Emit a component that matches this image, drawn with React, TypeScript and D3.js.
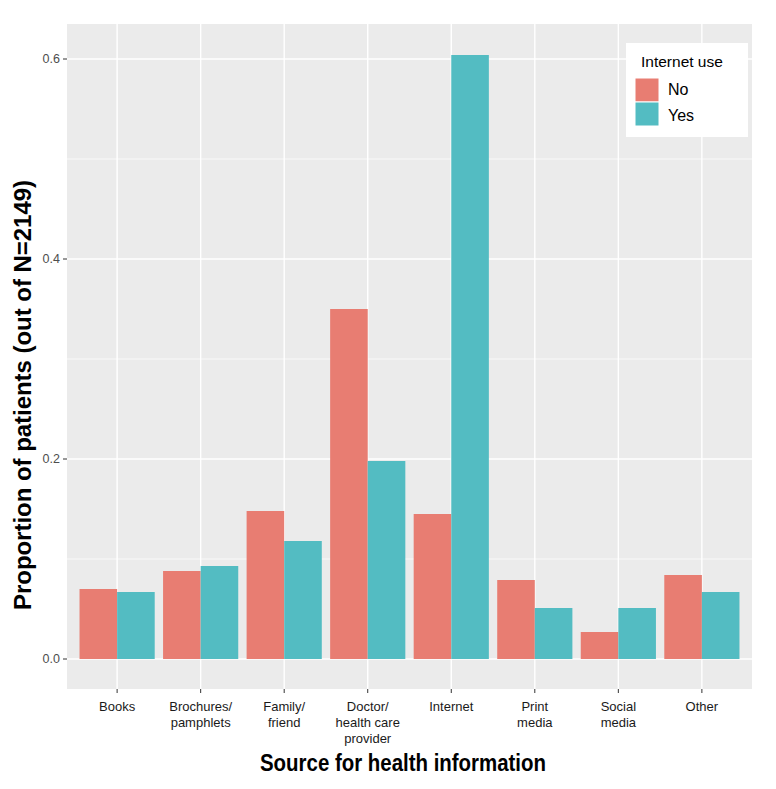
import React from "react";
import * as d3 from "d3";

const categories = ["Books", "Brochures/\npamphlets", "Family/\nfriend", "Doctor/\nhealth care\nprovider", "Internet", "Print\nmedia", "Social\nmedia", "Other"];
const seriesNames = ["No", "Yes"];
const valuesNo = [0.070, 0.088, 0.148, 0.350, 0.145, 0.079, 0.027, 0.084];
const valuesYes = [0.067, 0.093, 0.118, 0.198, 0.604, 0.051, 0.051, 0.067];
const yTicks = [0.0, 0.2, 0.4, 0.6];
const yMinor = [0.1, 0.3, 0.5];
const colors = ["#E87D72", "#53BCC2"];

export default function App() {
  const W = 776, H = 789;
  const left = 67, right = 752, top = 24, bottom = 689;
  // ggplot discrete scale: positions 1..n with 0.6 expansion each side
  const x = d3.scaleLinear().domain([0.4, categories.length + 0.6]).range([left, right]);
  const cx = (i: number) => x(i + 1);
  const y = d3.scaleLinear().domain([0, 0.6]).range([659, 59]);
  const bw = x(1.45) - x(1);
  const series = [valuesNo, valuesYes];
  const font = "Liberation Sans, Arial, sans-serif";
  return (
    <svg width={W} height={H} style={{ position: "absolute", left: 0, top: 0, background: "#fff" }} fontFamily={font}>
      <rect x={left} y={top} width={right - left} height={bottom - top} fill="#EBEBEB" />
      {yMinor.map((v) => (
        <line key={"m" + v} x1={left} x2={right} y1={y(v)} y2={y(v)} stroke="#fff" strokeWidth={0.7} />
      ))}
      {yTicks.map((v) => (
        <line key={"g" + v} x1={left} x2={right} y1={y(v)} y2={y(v)} stroke="#fff" strokeWidth={1.4} />
      ))}
      {categories.map((c, i) => (
        <line key={"vx" + i} x1={cx(i)} x2={cx(i)} y1={top} y2={bottom} stroke="#fff" strokeWidth={1.4} />
      ))}
      {series.map((vals, s) =>
        vals.map((v, i) => (
          <rect key={s + "-" + i} x={cx(i) - bw + s * bw} y={y(v)} width={bw} height={y(0) - y(v)} fill={colors[s]} />
        ))
      )}
      {yTicks.map((v) => (
        <g key={"t" + v}>
          <line x1={left - 4} x2={left} y1={y(v)} y2={y(v)} stroke="#333" strokeWidth={1} />
          <text x={left - 7} y={y(v)} dy="0.35em" textAnchor="end" fontSize={12.5} fill="#4D4D4D">{v.toFixed(1)}</text>
        </g>
      ))}
      {categories.map((c, i) => (
        <g key={"xt" + i}>
          <line x1={cx(i)} x2={cx(i)} y1={bottom} y2={bottom + 4} stroke="#333" strokeWidth={1} />
          {c.split("\n").map((ln, k) => (
            <text key={k} x={cx(i)} y={711 + k * 16} textAnchor="middle" fontSize={13} fill="#1a1a1a">{ln}</text>
          ))}
        </g>
      ))}
      <text x={(260 + 546) / 2} y={771} textAnchor="middle" fontSize={24} fontWeight="bold" fill="#000" textLength={286} lengthAdjust="spacingAndGlyphs">Source for health information</text>
      <text transform="translate(31,395) rotate(-90)" textAnchor="middle" fontSize={24} fontWeight="bold" fill="#000" textLength={430} lengthAdjust="spacingAndGlyphs">Proportion of patients (out of N=2149)</text>
      <rect x={626} y={43} width={122} height={94} fill="#fff" />
      <text x={641} y={67} fontSize={15.5} fill="#000">Internet use</text>
      {seriesNames.map((n, s) => (
        <g key={n}>
          <rect x={635} y={78 + s * 24} width={24} height={24} fill={colors[s]} stroke="#fff" strokeWidth={1} />
          <text x={668} y={95 + s * 25.5} fontSize={16} fill="#000">{n}</text>
        </g>
      ))}
    </svg>
  );
}
